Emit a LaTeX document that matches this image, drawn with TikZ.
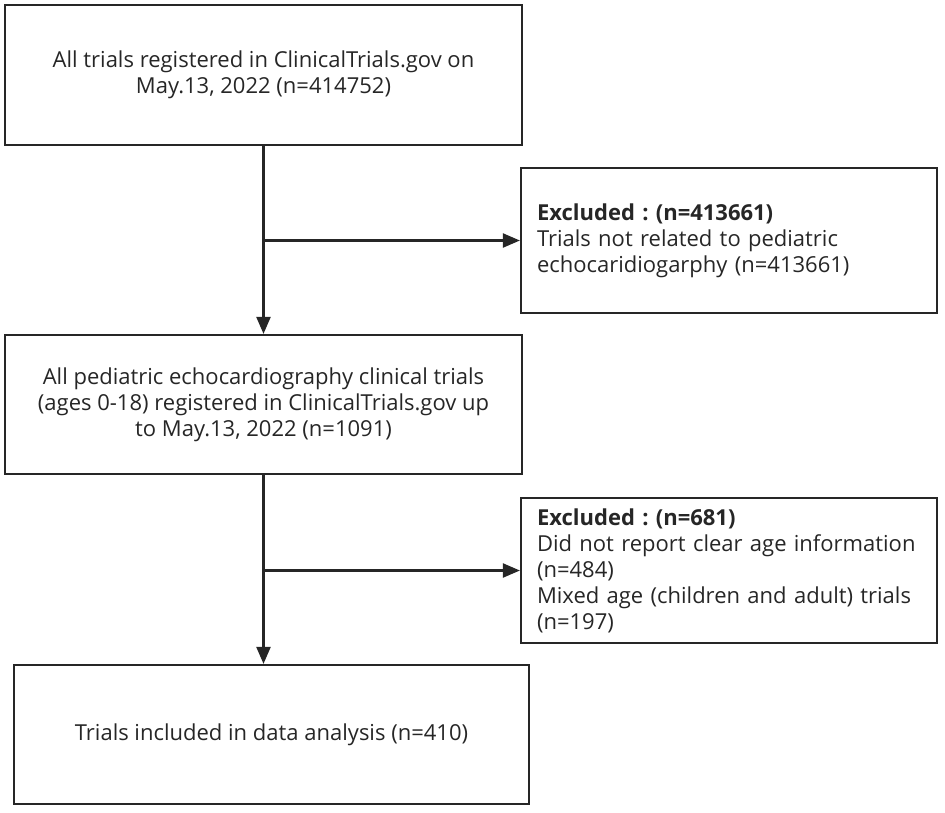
\documentclass[tikz,border=0pt]{standalone}
\usepackage{fontspec}
\setmainfont{Open Sans}
\usetikzlibrary{arrows.meta}
\frenchspacing
\begin{document}
\begin{tikzpicture}[x=1pt,y=-1pt,
  flowbox/.style={draw=black!85,line width=2.2pt,rectangle,inner sep=0pt,align=center,text=black!85,font=\fontsize{22}{26}\selectfont},
  exclbox/.style={flowbox,align=left,text width=384pt,minimum width=416pt,minimum height=145pt},
  flowarrow/.style={draw=black!85,line width=2.2pt,-{Triangle[length=17pt,width=14pt]}}]
\useasboundingbox (0,0) rectangle (945,812);

%---------------------------------------------------
\node[flowbox,minimum width=517pt,minimum height=140pt] (all) at (263.5,75)
  {All trials registered in ClinicalTrials.gov on\\May.13, 2022 (n=414752)};
\node[flowbox,minimum width=517pt,minimum height=139pt] (pedi) at (263.5,404.5)
  {All pediatric echocardiography clinical trials\\(ages 0-18) registered in ClinicalTrials.gov up\\to May.13, 2022 (n=1091)};
\node[flowbox,minimum width=515pt,minimum height=139pt] (incl) at (271.5,734.5)
  {Trials included in data analysis (n=410)};

%---------------------------------------------------
\node[exclbox] (exclA) at (729,240.5)
  {\textbf{Excluded : (n=413661)}\\Trials not related to pediatric\\echocaridiogarphy (n=413661)};
\node[exclbox] (exclB) at (729,570.5)
  {\textbf{Excluded : (n=681)}\\Did not report clear age information\\(n=484)\\Mixed age (children and adult) trials\\(n=197)};

%--------------------------------------------------
\draw[flowarrow] (all.south) -- (all.south |- pedi.north);
\draw[flowarrow] (all.south |- exclA.west) -- (exclA.west);
\draw[flowarrow] (pedi.south) -- (pedi.south |- incl.north);
\draw[flowarrow] (pedi.south |- exclB.west) -- (exclB.west);

\end{tikzpicture}
\end{document}
